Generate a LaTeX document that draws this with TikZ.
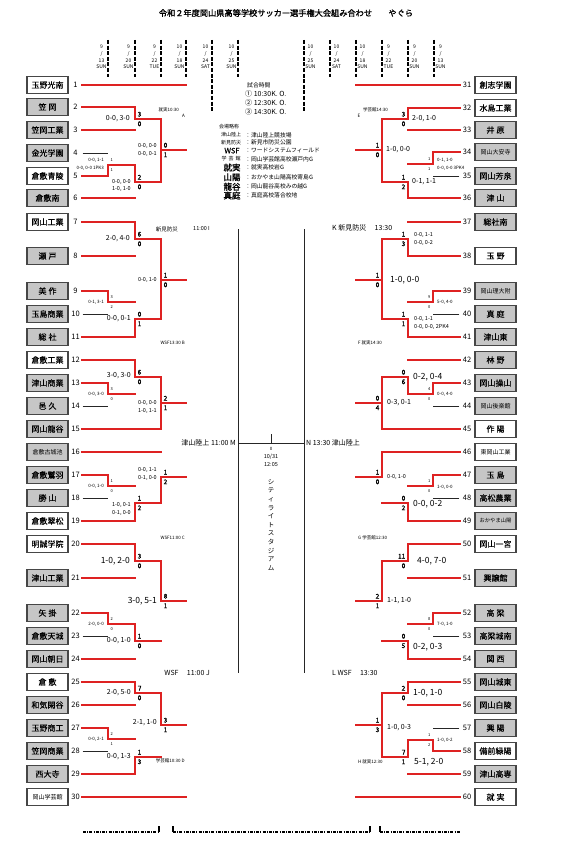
\documentclass[tikz,border=0pt]{standalone}
\usepackage{fontspec}
\setmainfont{Noto Sans CJK JP}
\newfontfamily\jb{Noto Sans CJK JP}[FakeBold=1.3]
\newfontfamily\jm{Noto Sans CJK JP}[FakeBold=0.3]
\definecolor{myred}{RGB}{222,34,34}
\definecolor{boxg}{RGB}{198,198,198}
\definecolor{boxc}{RGB}{70,70,70}
\newcommand\fs[2]{\fontsize{#1}{#2}\selectfont}
\pgfdeclarelayer{bg}
\pgfsetlayers{bg,main}
\tikzset{
 rl/.style={draw=myred,line width=2.5pt,line cap=rect,line join=miter},
 bl/.style={draw=black!85,line width=0.8pt},
 tb/.style={draw=boxc,line width=1.1pt,minimum width=41pt,minimum height=17pt,inner sep=0pt,font=\jm\fs{8}{9}},
 tbs/.style={tb,font=\fs{6}{7}},
 gbox/.style={fill=boxg},
 wbox/.style={fill=white},
 num/.style={inner sep=0pt,font=\fs{7.5}{8}},
 sc/.style={inner sep=0pt,font=\jb\fs{6.5}{7}},
 scs/.style={inner sep=0pt,font=\fs{4}{5}},
 labT/.style={inner sep=0pt,font=\fs{4.5}{7.6}},
 labS/.style={inner sep=0pt,font=\fs{5.5}{7.8}},
 labM/.style={inner sep=0pt,font=\fs{7}{8}},
 labL/.style={inner sep=0pt,font=\fs{8.5}{9}},
 dt/.style={inner sep=0pt,align=center,font=\fs{5}{6.7}},
 dsh/.style={draw=black,line width=1.4pt,dash pattern=on 4pt off 1.6pt},
 dshb/.style={draw=black,line width=1.1pt,dash pattern=on 3pt off 1.2pt on 1pt off 1.2pt},
 lg/.style={inner sep=0pt,font=\fs{5.8}{6}},
 lgb/.style={inner sep=0pt,font=\jb\fs{8.5}{9}},
}
% left match: X y1 y2 m X2 mode s1 s2 scorestyle
\newcommand\ML[9]{%
 \begin{pgfonlayer}{bg}\draw[bl] (#1,#2) -- (#1,#3);\end{pgfonlayer}
 \ifcase#6\relax
  \draw[rl] (#1,#2) -- (#1,#3); \draw[rl] (#1,#4) -- (#5,#4);
 \or
  \draw[rl] (#1,#2) -- (#1,#4) -- (#5,#4);
 \or
  \draw[rl] (#1,#3) -- (#1,#4) -- (#5,#4);
 \or
  \begin{pgfonlayer}{bg}\draw[bl] (#1,#4) -- (#5,#4);\end{pgfonlayer}
 \fi
 \node[#9,anchor=west] at (#1+2.5,#4-4.8) {#7};
 \node[#9,anchor=west] at (#1+2.5,#4+4.8) {#8};
}
\newcommand\MR[9]{%
 \begin{pgfonlayer}{bg}\draw[bl] (#1,#2) -- (#1,#3);\end{pgfonlayer}
 \ifcase#6\relax
  \draw[rl] (#1,#2) -- (#1,#3); \draw[rl] (#1,#4) -- (#5,#4);
 \or
  \draw[rl] (#1,#2) -- (#1,#4) -- (#5,#4);
 \or
  \draw[rl] (#1,#3) -- (#1,#4) -- (#5,#4);
 \or
  \begin{pgfonlayer}{bg}\draw[bl] (#1,#4) -- (#5,#4);\end{pgfonlayer}
 \fi
 \node[#9,anchor=east] at (#1-2.5,#4-4.8) {#7};
 \node[#9,anchor=east] at (#1-2.5,#4+4.8) {#8};
}
% teams
\newcommand\TL[5]{\node[#4,#5] (t#1) at (47.5,#2) {#3}; \node[num] at (75.5,#2) {#1};}
\newcommand\TR[5]{\node[#4,#5] (t#1) at (495.5,#2) {#3}; \node[num] at (467,#2) {#1};}
\newcommand\LT[4]{\draw[#4] ([xshift=14pt]t#1.east) -- (#3,#2);}
\newcommand\RT[4]{\draw[#4] ([xshift=-15pt]t#1.west) -- (#3,#2);}
% labels
\newcommand\LA[4]{\node[#3,anchor=east,align=right] at (#1,#2) {#4};}
\newcommand\RA[4]{\node[#3,anchor=west,align=left] at (#1,#2) {#4};}
\newcommand\DLa[4]{\node[dt] at (#1-6.5,57) {#2\\/\\#3\\#4};}
\newcommand\DRa[4]{\node[dt] at (#1+6.5,57) {#2\\/\\#3\\#4};}
\begin{document}
\begin{tikzpicture}[x=1pt,y=-1pt]
\useasboundingbox (0,0) rectangle (568,845);
\fill[white] (0,0) rectangle (568,845);
% title
\node[inner sep=0pt,font=\jb\fs{8.2}{9}] (title) at (286,13) {令和２年度岡山県高等学校サッカー選手権大会組み合わせ\hspace{2em}やぐら};
% dates
\DLa{108}{9}{13}{SUN} \DLa{135}{9}{20}{SUN} \DLa{161}{9}{22}{TUE}
\DLa{186}{10}{18}{SUN} \DLa{212}{10}{24}{SAT} \DLa{238}{10}{25}{SUN}
\DRa{304}{10}{25}{SUN} \DRa{330}{10}{24}{SAT} \DRa{356}{10}{18}{SUN}
\DRa{382}{9}{22}{TUE} \DRa{408}{9}{20}{SUN} \DRa{434}{9}{13}{SUN}
\foreach \x in {108,135,161,186,238,330,356,382,408,434} {\draw[dsh] (\x,40) -- (\x,77);}
\draw[dsh] (212,40) -- (212,111);
\draw[dsh] (304,40) -- (304,112);
% bottom dashes
\draw[dshb] (83,832) -- (159,832);
\draw[black,line width=1.1pt] (159,832) -- (159,826);
\draw[dshb] (173,832) -- (370,832);
\draw[black,line width=1.1pt] (173,832) -- (173,826) (370,832) -- (370,826);
\draw[dshb] (380,832) -- (460,832);
\draw[black,line width=1.1pt] (380,832) -- (380,826);

% ---------- LEFT matches ----------
\ML{135}{107}{130}{119}{161}{1}{3}{0}{sc}
\ML{108}{153}{176}{165}{135}{2}{1}{1}{scs}
\ML{135}{165}{198}{182}{161}{1}{2}{0}{sc}
\ML{161}{119}{182}{150}{186}{0}{0}{1}{sc}
\ML{186}{85}{150}{116}{212}{3}{}{}{sc}
\ML{135}{222}{256}{239}{161}{1}{6}{0}{sc}
\ML{108}{291}{314}{302}{135}{1}{3}{2}{scs}
\ML{135}{302}{337}{319}{161}{2}{0}{1}{sc}
\ML{161}{239}{319}{280}{186}{0}{1}{0}{sc}
\ML{108}{383}{406}{394}{135}{1}{3}{0}{scs}
\ML{135}{360}{394}{377}{161}{1}{6}{0}{sc}
\ML{161}{377}{429}{403}{186}{0}{2}{1}{sc}
\ML{186}{280}{403}{343}{212}{3}{}{}{sc}
\ML{212}{116}{343}{229}{238}{3}{}{}{sc}
\ML{108}{475}{498}{486}{135}{1}{1}{0}{scs}
\ML{135}{486}{521}{503}{161}{2}{1}{2}{sc}
\ML{161}{452}{503}{477}{186}{2}{1}{2}{sc}
\ML{135}{544}{578}{561}{161}{1}{3}{0}{sc}
\ML{108}{613}{636}{624}{135}{1}{2}{0}{scs}
\ML{135}{624}{659}{641}{161}{1}{1}{0}{sc}
\ML{161}{561}{641}{601}{186}{1}{8}{1}{sc}
\ML{186}{477}{601}{538}{212}{3}{}{}{sc}
\ML{135}{682}{705}{693}{161}{1}{7}{0}{sc}
\ML{108}{728}{751}{739}{135}{1}{2}{1}{scs}
\ML{135}{739}{774}{757}{161}{2}{1}{3}{sc}
\ML{161}{693}{757}{725}{186}{1}{3}{1}{sc}
\ML{186}{725}{797}{761}{212}{3}{}{}{sc}
\ML{212}{538}{761}{673}{238}{3}{}{}{sc}
\draw[bl] (238,229) -- (238,673);

% ---------- RIGHT matches ----------
\MR{408}{108}{130}{119}{382}{1}{3}{0}{sc}
\MR{433}{152}{176}{164}{408}{1}{1}{1}{scs}
\MR{408}{164}{198}{182}{382}{2}{1}{2}{sc}
\MR{382}{119}{182}{150}{356}{0}{1}{0}{sc}
\MR{356}{85}{150}{116}{330}{3}{}{}{sc}
\MR{408}{222}{256}{239}{382}{2}{1}{3}{sc}
\MR{433}{291}{314}{302}{408}{1}{9}{0}{scs}
\MR{408}{302}{337}{319}{382}{2}{1}{1}{sc}
\MR{382}{239}{319}{280}{356}{0}{1}{0}{sc}
\MR{433}{383}{406}{394}{408}{1}{4}{0}{scs}
\MR{408}{360}{394}{377}{382}{2}{0}{6}{sc}
\MR{382}{377}{429}{403}{356}{0}{0}{4}{sc}
\MR{356}{280}{403}{343}{330}{3}{}{}{sc}
\MR{330}{116}{343}{229}{304}{3}{}{}{sc}
\MR{433}{475}{498}{486}{408}{1}{1}{0}{scs}
\MR{408}{486}{521}{503}{382}{2}{0}{2}{sc}
\MR{382}{452}{503}{477}{356}{1}{1}{0}{sc}
\MR{408}{544}{578}{561}{382}{1}{11}{0}{sc}
\MR{433}{613}{636}{624}{408}{1}{8}{0}{scs}
\MR{408}{624}{659}{641}{382}{2}{0}{5}{sc}
\MR{382}{561}{641}{601}{356}{1}{2}{1}{sc}
\MR{356}{477}{601}{538}{330}{3}{}{}{sc}
\MR{408}{682}{705}{693}{382}{1}{2}{0}{sc}
\MR{433}{728}{751}{740}{408}{2}{1}{2}{scs}
\MR{408}{740}{774}{757}{382}{1}{7}{1}{sc}
\MR{382}{693}{757}{725}{356}{0}{1}{3}{sc}
\MR{356}{725}{797}{762}{330}{3}{}{}{sc}
\MR{330}{538}{762}{673}{304}{3}{}{}{sc}
\draw[bl] (304,229) -- (304,673);

% final
\draw[bl] (238,443) -- (304,443);
\draw[bl] (271,434) -- (271,443);
\node[inner sep=0pt,font=\fs{4.5}{5}] at (271,448.5) {0};
\node[inner sep=0pt,font=\fs{5.5}{6}] at (271,456.5) {10/31};
\node[inner sep=0pt,font=\fs{5.5}{6}] at (271,465) {12:05};
\node[inner sep=0pt,align=center,font=\fs{6.5}{8.6}] (stad) at (271,525) {シ\\テ\\ィ\\ラ\\イ\\ト\\ス\\タ\\ジ\\ア\\ム};

% ---------- teams LEFT ----------
\TL{1}{85}{玉野光南}{tb}{wbox}
\TL{2}{107}{笠\hspace{2pt}岡}{tb}{gbox}
\TL{3}{130}{笠岡工業}{tb}{gbox}
\TL{4}{153}{金光学園}{tb}{gbox}
\TL{5}{176}{倉敷青陵}{tb}{wbox}
\TL{6}{198}{倉敷南}{tb}{gbox}
\TL{7}{222}{岡山工業}{tb}{wbox}
\TL{8}{256}{瀬\hspace{2pt}戸}{tb}{gbox}
\TL{9}{291}{美\hspace{2pt}作}{tb}{gbox}
\TL{10}{314}{玉島商業}{tb}{gbox}
\TL{11}{337}{総\hspace{2pt}社}{tb}{gbox}
\TL{12}{360}{倉敷工業}{tb}{wbox}
\TL{13}{383}{津山商業}{tb}{gbox}
\TL{14}{406}{邑\hspace{2pt}久}{tb}{gbox}
\TL{15}{429}{岡山龍谷}{tb}{gbox}
\TL{16}{452}{倉敷古城池}{tbs}{gbox}
\TL{17}{475}{倉敷鷲羽}{tb}{gbox}
\TL{18}{498}{勝\hspace{2pt}山}{tb}{gbox}
\TL{19}{521}{倉敷翠松}{tb}{wbox}
\TL{20}{544}{明誠学院}{tb}{wbox}
\TL{21}{578}{津山工業}{tb}{gbox}
\TL{22}{613}{矢\hspace{2pt}掛}{tb}{gbox}
\TL{23}{636}{倉敷天城}{tb}{gbox}
\TL{24}{659}{岡山朝日}{tb}{gbox}
\TL{25}{682}{倉\hspace{2pt}敷}{tb}{wbox}
\TL{26}{705}{和気閑谷}{tb}{gbox}
\TL{27}{728}{玉野商工}{tb}{gbox}
\TL{28}{751}{笠岡商業}{tb}{gbox}
\TL{29}{774}{西大寺}{tb}{gbox}
\TL{30}{797}{岡山学芸館}{tbs}{wbox}
% ---------- teams RIGHT ----------
\TR{31}{85}{創志学園}{tb}{wbox}
\TR{32}{108}{水島工業}{tb}{wbox}
\TR{33}{130}{井\hspace{2pt}原}{tb}{gbox}
\TR{34}{152}{岡山大安寺}{tbs}{gbox}
\TR{35}{176}{岡山芳泉}{tb}{gbox}
\TR{36}{198}{津\hspace{2pt}山}{tb}{gbox}
\TR{37}{222}{総社南}{tb}{gbox}
\TR{38}{256}{玉\hspace{2pt}野}{tb}{wbox}
\TR{39}{291}{岡山理大附}{tbs}{gbox}
\TR{40}{314}{真\hspace{2pt}庭}{tb}{gbox}
\TR{41}{337}{津山東}{tb}{gbox}
\TR{42}{360}{林\hspace{2pt}野}{tb}{gbox}
\TR{43}{383}{岡山操山}{tb}{gbox}
\TR{44}{406}{岡山後楽館}{tbs}{gbox}
\TR{45}{429}{作\hspace{2pt}陽}{tb}{wbox}
\TR{46}{452}{東岡山工業}{tbs}{wbox}
\TR{47}{475}{玉\hspace{2pt}島}{tb}{gbox}
\TR{48}{498}{高松農業}{tb}{gbox}
\TR{49}{521}{おかやま山陽}{tbs,font=\fs{5.3}{6}}{gbox}
\TR{50}{544}{岡山一宮}{tb}{wbox}
\TR{51}{578}{興譲館}{tb}{gbox}
\TR{52}{613}{高\hspace{2pt}梁}{tb}{gbox}
\TR{53}{636}{高梁城南}{tb}{gbox}
\TR{54}{659}{関\hspace{2pt}西}{tb}{gbox}
\TR{55}{682}{岡山城東}{tb}{gbox}
\TR{56}{705}{岡山白陵}{tb}{gbox}
\TR{57}{728}{興\hspace{2pt}陽}{tb}{gbox}
\TR{58}{751}{備前緑陽}{tb}{wbox}
\TR{59}{774}{津山高専}{tb}{gbox}
\TR{60}{797}{就\hspace{2pt}実}{tb}{wbox}

% ---------- team lines ----------
\foreach \n/\y in {4/153,10/314,14/406,18/498,23/636,28/751} {\LT{\n}{\y}{108}{bl}}
\foreach \n/\y in {35/176,40/314,44/406,48/498,53/636,57/728} {\RT{\n}{\y}{433}{bl}}
\foreach \n/\y/\X in {1/85/186,2/107/135,3/130/135,5/176/108,6/198/135,7/222/135,8/256/135,9/291/108,11/337/135,12/360/135,13/383/108,15/429/161,16/452/161,17/475/108,19/521/135,20/544/135,21/578/135,22/613/108,24/659/135,25/682/135,26/705/135,27/728/108,29/774/135,30/797/186} {\LT{\n}{\y}{\X}{rl}}
\foreach \n/\y/\X in {31/85/356,32/108/408,33/130/408,34/152/433,36/198/408,37/222/408,38/256/408,39/291/433,41/337/408,42/360/408,43/383/433,45/429/382,46/452/382,47/475/433,49/521/408,50/544/408,51/578/408,52/613/433,54/659/408,55/682/408,56/705/408,58/751/433,59/774/408,60/797/356} {\RT{\n}{\y}{\X}{rl}}

% ---------- labels LEFT ----------
\LA{130}{119}{labM}{0-0, 3-0}
\LA{104}{164}{labT}{0-0, 1-1\\0-0, 0-0 1PK3}
\LA{131}{185.5}{labS}{0-0, 0-0\\1-0, 1-0}
\LA{157}{150}{labS}{0-0, 0-0\\0-0, 0-1}
\LA{179}{110}{labT}{就実10:30}
\LA{185}{116}{labT}{A}
\LA{130}{239}{labM}{2-0, 4-0}
\LA{104}{302}{labT}{0-1, 3-1}
\LA{131}{319}{labM}{0-0, 0-1}
\LA{157}{280}{labS}{0-0, 1-0}
\LA{104}{394}{labT}{0-0, 3-0}
\LA{131}{376}{labM}{3-0, 3-0}
\LA{157}{407}{labS}{0-0, 0-0\\1-0, 1-1}
\LA{185}{343}{labT}{WSF13:30 B}
\LA{178}{229}{labS}{新見防災}
\LA{210}{229}{labS}{11:00 I}
\LA{104}{486}{labT}{0-0, 1-0}
\LA{131}{509}{labS}{1-0, 0-1\\0-1, 0-0}
\LA{157}{474}{labS}{0-0, 1-1\\0-1, 0-0}
\LA{130}{561}{labL}{1-0, 2-0}
\LA{104}{624}{labT}{2-0, 0-0}
\LA{131}{641}{labM}{0-0, 1-0}
\LA{157}{601}{labL}{3-0, 5-1}
\LA{185}{538}{labT}{WSF11:00 C}
\LA{131}{693}{labM}{2-0, 5-0}
\LA{104}{739}{labT}{0-0, 2-1}
\LA{131}{757}{labM}{0-0, 1-3}
\LA{157}{723}{labM}{2-1, 1-0}
\LA{185}{761}{labT}{学芸館10:30 D}
\LA{210}{673}{labM}{WSF\hspace{1.2em}11:00 J}
\LA{236}{443}{labM}{津山陸上 11:00 M}
% ---------- labels RIGHT ----------
\RA{412}{119}{labM}{2-0, 1-0}
\RA{437}{164}{labT}{0-1, 1-0\\0-0, 0-0 3PK4}
\RA{412}{182}{labM}{0-1, 1-1}
\RA{386}{150}{labM}{1-0, 0-0}
\RA{363}{110}{labT}{学芸館14:30}
\RA{357.5}{116}{labT}{E}
\RA{414}{239}{labS}{0-0, 1-1\\0-0, 0-2}
\RA{437}{302}{labT}{5-0, 4-0}
\RA{414}{323}{labS}{0-0, 1-1\\0-0, 0-0, 2PK4}
\RA{390}{280}{labL}{1-0, 0-0}
\RA{437}{394}{labT}{0-0, 4-0}
\RA{413}{377}{labL}{0-2, 0-4}
\RA{387}{403}{labM}{0-3, 0-1}
\RA{358}{343}{labT}{F\ 就実14:30}
\RA{332}{228}{labM}{K 新見防災\hspace{1.2em}13:30}
\RA{437}{487}{labT}{1-0, 0-0}
\RA{413}{504}{labL}{0-0, 0-2}
\RA{387}{477}{labS}{0-0, 1-0}
\RA{417}{561}{labL}{4-0, 7-0}
\RA{437}{624}{labT}{7-0, 1-0}
\RA{413}{647}{labL}{0-2, 0-3}
\RA{387}{601}{labM}{1-1, 1-0}
\RA{358}{538}{labT}{G\ 学芸館12:30}
\RA{413}{693}{labL}{1-0, 1-0}
\RA{437}{740}{labT}{1-0, 0-2}
\RA{414}{762}{labL}{5-1, 2-0}
\RA{387}{728}{labM}{1-0, 0-3}
\RA{358}{762}{labT}{H\ 就実12:30}
\RA{332}{673}{labM}{L WSF\hspace{1.2em}13:30}
\RA{306}{443}{labM}{N 13:30 津山陸上}

% ---------- legend ----------
\node[lg,anchor=west] (lgh) at (247,85) {試合時間};
\node[inner sep=0pt,anchor=west,font=\fs{7}{8}] (k1) at (245,94.3) {① 10:30K. O.};
\node[inner sep=0pt,anchor=west,font=\fs{7}{8}] (k2) at (245,102.7) {② 12:30K. O.};
\node[inner sep=0pt,anchor=west,font=\fs{7}{8}] (k3) at (245,111.7) {③ 14:30K. O.};
\node[lg,anchor=west,font=\fs{5}{6}] (vh) at (219,126.7) {会場略称};
\node[lg,font=\fs{5}{6}] (v1) at (231,135) {津山陸上};
\node[lg,font=\fs{5}{6}] (v2) at (231,142.7) {新見防災};
\node[lg,font=\jm\fs{7.5}{8}] (v3) at (232,150.7) {WSF};
\node[lg,font=\fs{5}{6}] (v4) at (231,159) {学\hspace{2pt}芸\hspace{2pt}館};
\node[lgb] (v5) at (232,167.5) {就実};
\node[lgb] (v6) at (232,177.3) {山陽};
\node[lgb] (v7) at (232,186.7) {龍谷};
\node[lgb] (v8) at (232,195.5) {真庭};
\node[lg,anchor=west] (w1) at (245,135) {：津山陸上競技場};
\node[lg,anchor=west] (w2) at (245,142.7) {：新見市防災公園};
\node[lg,anchor=west] (w3) at (245,150.7) {：ワードシステムフィールド};
\node[lg,anchor=west] (w4) at (245,159) {：岡山学芸館高校瀬戸内G};
\node[lg,anchor=west] (w5) at (245,167.3) {：就実高校岩G};
\node[lg,anchor=west] (w6) at (245,177.3) {：おかやま山陽高校寄島G};
\node[lg,anchor=west] (w7) at (245,186.7) {：岡山龍谷高校みの越G};
\node[lg,anchor=west] (w8) at (245,195.5) {：真庭高校落合校地};
\end{tikzpicture}
\end{document}
